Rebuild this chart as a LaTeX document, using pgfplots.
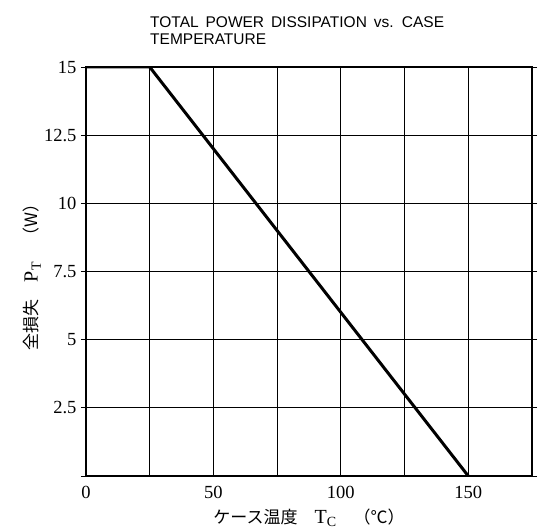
\documentclass[border=0pt]{standalone}
\usepackage{pgfplots}
\pgfplotsset{compat=1.18}
\usepackage{fontspec}
\setmainfont{Liberation Serif}
\newfontfamily\cjk{Noto Sans CJK JP}
\newfontfamily\titlefont[WordSpace=1.6]{Liberation Sans}
\begin{document}
\begin{tikzpicture}
\useasboundingbox (-86pt,-54pt) rectangle (453pt,476pt);
\begin{axis}[
  at={(0pt,0pt)}, anchor=south west,
  scale only axis, width=446pt, height=409pt,
  xmin=0, xmax=175, ymin=0, ymax=15,
  xtick={0,25,50,75,100,125,150,175},
  xticklabels={0,,50,,100,,150,},
  ytick={0,2.5,5,7.5,10,12.5,15},
  yticklabels={,2.5,5,7.5,10,12.5,15},
  grid=major,
  major grid style={black, line width=1pt},
  axis line style={black, line width=1.6pt},
  xtick style={draw=none},
  ytick style={black, line width=0.8pt},
  tick align=outside,
  major tick length=5pt,
  /pgf/number format/assume math mode=true,
  tick label style={font=\fontsize{18.5}{21}\selectfont},
  xticklabel style={yshift=-2pt},
  yticklabel style={xshift=-1pt},
]
\addplot[black, line width=3pt, line join=round] coordinates {(0,15) (25,15) (150,0)};
\end{axis}
\node[anchor=base west, font=\titlefont\fontsize{15.5}{18}\selectfont, inner sep=0pt] at (64pt,448pt) {TOTAL POWER DISSIPATION vs. CASE};
\node[anchor=base west, font=\titlefont\fontsize{15.5}{18}\selectfont, inner sep=0pt] at (64pt,431pt) {TEMPERATURE};
\node[font=\fontsize{17}{19}\selectfont, inner sep=0pt] at (223pt,-42pt) {{\cjk ケース温度}\quad {\fontsize{20}{20}\selectfont T\textsubscript{C}}\quad{\cjk （℃）}};
\node[rotate=90, font=\fontsize{17}{19}\selectfont] at (-54pt,203pt) {{\cjk 全損失}\quad {\fontsize{20}{20}\selectfont P\textsubscript{T}}\quad{\cjk （W）}};
\end{tikzpicture}
\end{document}
